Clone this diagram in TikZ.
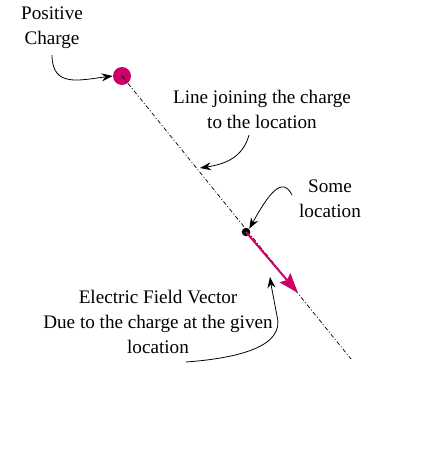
\documentclass[tikz,border=0pt]{standalone}
\usepackage{fontspec}
\setmainfont{Liberation Serif}
\usetikzlibrary{arrows.meta}
\definecolor{chargered}{HTML}{CC0066}
\tikzset{
  label/.style={align=center,inner sep=0pt,
                font=\fontsize{10.9}{14.2}\selectfont},
  pointer/.style={-{Stealth[length=2.2mm,width=1.6mm]},line width=0.45pt,draw=black},
  joinline/.style={line width=0.4pt,dash pattern=on 2.4pt off 1.2pt on 0.6pt off 1.2pt},
  fieldarr/.style={-{Stealth[length=4mm,width=2.8mm,inset=0.6mm]},line width=1.1pt,
                   draw=chargered}
}
\begin{document}
\begin{tikzpicture}[x=0.02cm,y=-0.02cm]
    \path[use as bounding box,fill=white] (0,0) rectangle (420,459);
    % the charge, the location and the line between them
    \node[circle,fill=chargered,minimum size=0.36cm,inner sep=0pt] (charge) at (122,76) {};
    \node[circle,fill=black,minimum size=0.17cm,inner sep=0pt] (loc) at (246,232) {};
    \coordinate (lineend) at (351,359);
    \coordinate (fieldtip) at (298,293);
    \draw[joinline] (charge.center) -- (lineend);
    \draw[fieldarr] (loc.center) -- (fieldtip);

    % labels
    \node[label] (poslabel) at (52,28) {Positive\\Charge};
    \node[label] (joinlabel) at (262,109) {Line joining the charge\\to the location};
    \node[label] (loclabel) at (330,199) {Some\\location};
    \node[label] (fieldlabel) at (158,322)
      {Electric Field Vector\\Due to the charge at the given\\location};

    \coordinate (onjoin) at (200,168);
    \coordinate (onfield) at (270,277);
    \coordinate (fieldstart) at (186,362);
    \draw[pointer] (52,55) .. controls (52,88) and (80,80) .. (charge.west);
    \draw[pointer] (249,135) .. controls (243,157) and (226,164) .. (onjoin);
    \draw[pointer] (292,195) .. controls (282,175) and (268,195) .. (loc.north east);
    \draw[pointer] (fieldstart) .. controls (240,358) and (285,346) .. (277,316)
      .. controls (273,300) .. (onfield);
  \end{tikzpicture}
\end{document}
